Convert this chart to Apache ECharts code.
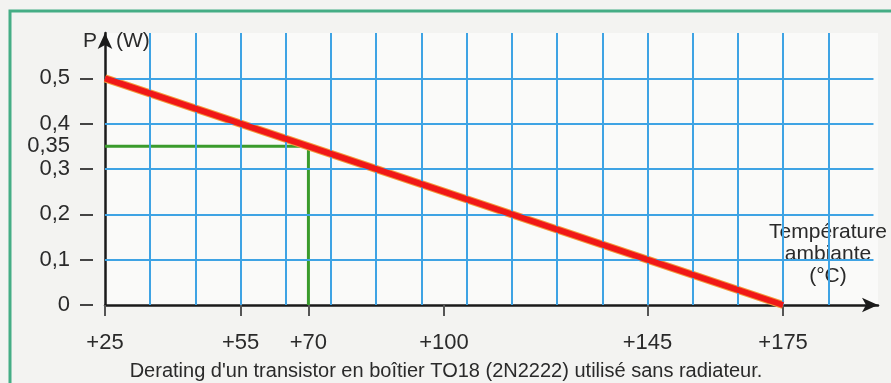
<!DOCTYPE html>
<html>
<head>
<meta charset="utf-8">
<script src="https://cdn.jsdelivr.net/npm/echarts@6/dist/echarts.min.js"></script>
<style>
  html, body { margin: 0; padding: 0; background: #f3f3f1; }
  #main { width: 891px; height: 383px; }
</style>
</head>
<body>
<div id="main"></div>
<script>
// courbe de derating (temperature -> puissance)
const derateTemp = [25, 175];
const deratePower = [0.5, 0];
// point
const readTemp = 70;
const readPower = 0.35;
// graduations
const xTickValues = [25, 55, 70, 100, 145, 175];
const yTickValues = [0, 0.1, 0.2, 0.3, 0.4, 0.5];
const yLabelValues = [0, 0.1, 0.2, 0.3, 0.35, 0.4, 0.5];
// quadrillage bleu
const gridTemps = [35, 45, 55, 65, 75, 85, 95, 105, 115, 125, 135, 145, 155, 165, 175, 185];
const gridPowers = [0.1, 0.2, 0.3, 0.4, 0.5];

const FONT = '"Liberation Sans", Arial, sans-serif';
const X_MIN = 25, X_MAX = 196, Y_MIN = 0, Y_MAX = 0.6;

var myChart = echarts.init(document.getElementById('main'));

const gridLines = [];
gridTemps.forEach(t => gridLines.push([{ coord: [t, Y_MIN] }, { coord: [t, Y_MAX] }]));
gridPowers.forEach(p => gridLines.push([{ coord: [X_MIN, p] }, { coord: [195, p] }]));

const curve = derateTemp.map((t, i) => [t, deratePower[i]]);

myChart.setOption({
    backgroundColor: '#f3f3f1',
    animation: false,
    textStyle: { fontFamily: FONT },
    grid: {
        left: 105, right: 13, top: 33, bottom: 78,
        show: true, backgroundColor: '#fafaf9', borderWidth: 0
    },
    xAxis: [
        {
            type: 'value', min: X_MIN, max: X_MAX,
            axisLine: {
                show: true, onZero: false,
                lineStyle: { color: '#1a1a1a', width: 2.5 },
                symbol: ['none', 'arrow'], symbolSize: [11, 16]
            },
            axisTick: { show: false },
            splitLine: { show: false },
            axisLabel: {
                customValues: xTickValues,
                formatter: v => '+' + v,
                margin: 27, fontSize: 22, color: '#2a2a2a', fontFamily: FONT
            }
        },
        {
            // petits traits sous l'axe
            type: 'value', min: X_MIN, max: X_MAX, position: 'bottom', offset: 8,
            axisLine: { show: false },
            axisLabel: { show: false },
            splitLine: { show: false },
            axisTick: {
                show: true, customValues: xTickValues, length: 11,
                lineStyle: { color: '#555', width: 2 }
            }
        }
    ],
    yAxis: [
        {
            type: 'value', min: Y_MIN, max: Y_MAX,
            axisLine: {
                show: true, onZero: false,
                lineStyle: { color: '#1a1a1a', width: 2.5 },
                symbol: ['none', 'arrow'], symbolSize: [11, 16]
            },
            axisTick: { show: false },
            splitLine: { show: false },
            axisLabel: {
                customValues: yLabelValues,
                formatter: v => String(v).replace('.', ','),
                margin: 35, fontSize: 22, color: '#2a2a2a', fontFamily: FONT
            }
        },
        {
            // tirets a gauche des valeurs
            type: 'value', min: Y_MIN, max: Y_MAX, position: 'left', offset: 12,
            axisLine: { show: false },
            axisLabel: { show: false },
            splitLine: { show: false },
            axisTick: {
                show: true, customValues: yTickValues, length: 13,
                lineStyle: { color: '#444', width: 2 }
            }
        }
    ],
    graphic: [
        {
            type: 'rect', silent: true, z: -1,
            shape: { x: 10, y: 11, width: 900, height: 400 },
            style: { fill: 'none', stroke: '#45ad85', lineWidth: 3 }
        },
        {
            type: 'text', left: 83, top: 31,
            style: { text: 'P', font: '21px ' + FONT, fill: '#2a2a2a' }
        },
        {
            type: 'text', left: 116, top: 31,
            style: { text: '(W)', font: '21px ' + FONT, fill: '#2a2a2a' }
        },
        {
            type: 'text', x: 828, y: 221,
            style: {
                text: 'Température\nambiante\n(°C)', font: '21px ' + FONT,
                fill: '#2a2a2a', align: 'center', lineHeight: 22
            }
        },
        {
            type: 'text', x: 446, y: 361,
            style: {
                text: "Derating d'un transistor en boîtier TO18 (2N2222) utilisé sans radiateur.",
                font: '20px ' + FONT, fill: '#2a2a2a', align: 'center'
            }
        }
    ],
    series: [
        {
            type: 'line', data: [], silent: true,
            markLine: {
                silent: true, symbol: 'none', label: { show: false },
                lineStyle: { color: '#3ea3e4', width: 2, type: 'solid' },
                data: gridLines
            }
        },
        {
            type: 'line', silent: true, symbol: 'none', z: 3,
            data: [[X_MIN, readPower], [readTemp, readPower], [readTemp, Y_MIN]],
            lineStyle: { color: '#3a9b2c', width: 3 }
        },
        {
            type: 'line', silent: true, symbol: 'none', z: 4,
            data: curve,
            lineStyle: { color: '#f39a3a', width: 8 }
        },
        {
            type: 'line', silent: true, symbol: 'none', z: 5,
            data: curve,
            lineStyle: { color: '#f01818', width: 6 }
        }
    ]
});
</script>
</body>
</html>
